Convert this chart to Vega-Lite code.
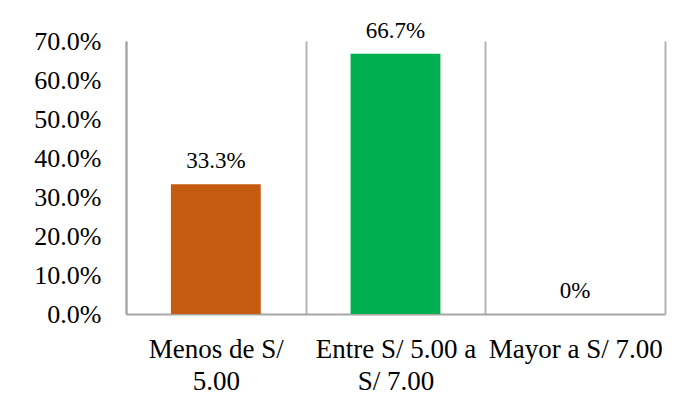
{
  "$schema": "https://vega.github.io/schema/vega-lite/v6.json",
  "width": 539,
  "height": 273,
  "autosize": "none",
  "padding": {"left": 126, "top": 41, "right": 21, "bottom": 85},
  "background": "white",
  "data": {
    "values": [
      {"rango": "Menos de S/ 5.00", "pct": 0.333},
      {"rango": "Entre S/ 5.00 a S/ 7.00", "pct": 0.667},
      {"rango": "Mayor a S/ 7.00", "pct": 0}
    ]
  },
  "config": {
    "view": {"stroke": null},
    "font": "Liberation Serif"
  },
  "encoding": {
    "x": {
      "field": "rango",
      "type": "nominal",
      "sort": null,
      "scale": {"paddingInner": 0, "paddingOuter": 0},
      "axis": {
        "title": null,
        "labelAngle": 0,
        "labelFont": "Liberation Serif",
        "labelFontSize": 27,
        "labelColor": "#000000",
        "labelLineHeight": 32,
        "labelPadding": 22,
        "labelLimit": 400,
        "labelOverlap": false,
        "labelFlush": false,
        "labelBaseline": "top",
        "labelExpr": "datum.value == 'Menos de S/ 5.00' ? ['Menos de S/', '5.00'] : datum.value == 'Entre S/ 5.00 a S/ 7.00' ? ['Entre S/ 5.00 a', 'S/ 7.00'] : datum.value",
        "ticks": false,
        "tickSize": 0,
        "tickBand": "extent",
        "grid": true,
        "gridColor": "#b3b3b3",
        "gridWidth": 2,
        "domainColor": "#a6a6a6",
        "domainWidth": 2
      }
    },
    "y": {
      "field": "pct",
      "type": "quantitative",
      "scale": {"domain": [0, 0.7], "nice": false},
      "axis": {
        "title": null,
        "values": [0, 0.1, 0.2, 0.3, 0.4, 0.5, 0.6, 0.7],
        "format": ".1%",
        "labelFont": "Liberation Serif",
        "labelFontSize": 26,
        "labelColor": "#000000",
        "labelPadding": 25,
        "ticks": false,
        "tickSize": 0,
        "grid": false,
        "domainColor": "#a6a6a6",
        "domainWidth": 2
      }
    }
  },
  "layer": [
    {
      "mark": {"type": "bar", "width": {"band": 0.5}},
      "encoding": {
        "color": {
          "field": "rango",
          "type": "nominal",
          "legend": null,
          "scale": {
            "domain": ["Menos de S/ 5.00", "Entre S/ 5.00 a S/ 7.00", "Mayor a S/ 7.00"],
            "range": ["#C55A11", "#00B050", "#4472C4"]
          }
        }
      }
    },
    {
      "mark": {"type": "text", "dy": -16, "baseline": "alphabetic", "fontSize": 23, "font": "Liberation Serif", "color": "#000000"},
      "encoding": {
        "text": {"field": "pct", "type": "quantitative", "format": ".1~%"}
      }
    }
  ]
}
